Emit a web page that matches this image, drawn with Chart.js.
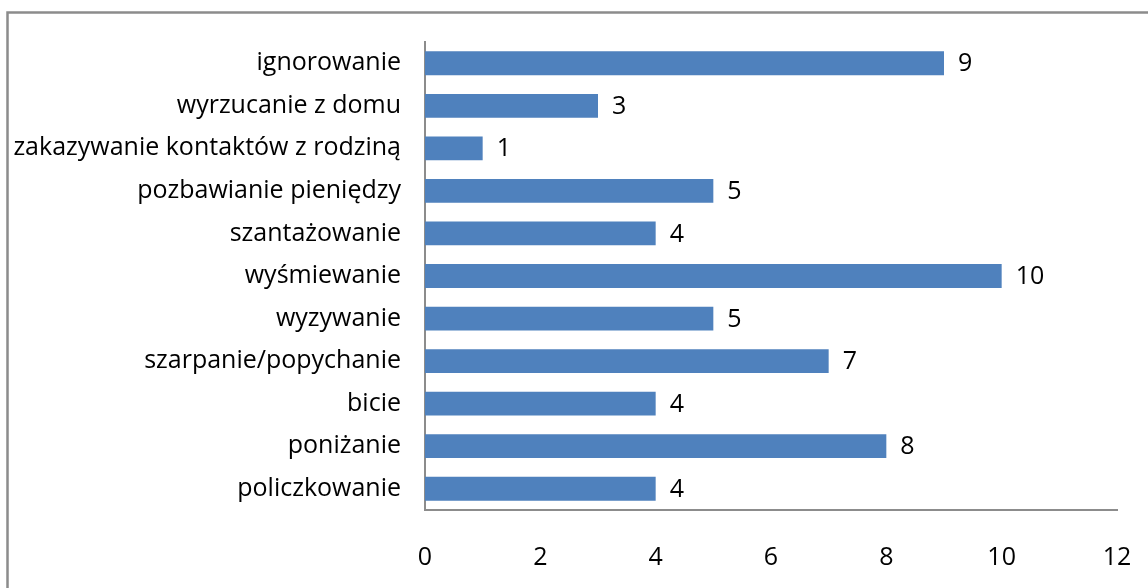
<!DOCTYPE html>
<html lang="pl">

<head>
    <meta charset="UTF-8">
    <title>Formy przemocy</title>
    <script src="https://cdn.jsdelivr.net/npm/chart.js"></script>
    <style>
        html, body { margin: 0; padding: 0; background: #fff; }
        #wrap { width: 1148px; height: 588px; }
    </style>
</head>

<body>
    <div id="wrap">
        <canvas id="myChart" width="1148" height="588"></canvas>
    </div>

    <script>
        // dane
        const kategorie = [
            'ignorowanie',
            'wyrzucanie z domu',
            'zakazywanie kontaktów z rodziną',
            'pozbawianie pieniędzy',
            'szantażowanie',
            'wyśmiewanie',
            'wyzywanie',
            'szarpanie/popychanie',
            'bicie',
            'poniżanie',
            'policzkowanie'
        ];
        const wartosci = [9, 3, 1, 5, 4, 10, 5, 7, 4, 8, 4];
        const osX = [0, 2, 4, 6, 8, 10, 12];

        const font = '"Open Sans"';
        const fontSize = 25;

        // ramka wokol wykresu
        const ramka = {
            id: 'ramka',
            beforeDraw(chart) {
                const c = chart.ctx;
                c.save();
                c.strokeStyle = '#8c8c8c';
                c.lineWidth = 2.5;
                c.strokeRect(7.5, 12.5, 1400, 900);
                c.restore();
            }
        };

        // etykiety z wartosciami
        const etykiety = {
            id: 'etykiety',
            afterDatasetsDraw(chart) {
                const c = chart.ctx;
                const meta = chart.getDatasetMeta(0);
                c.save();
                c.font = fontSize + 'px ' + font;
                c.fillStyle = '#000';
                c.textAlign = 'left';
                c.textBaseline = 'middle';
                meta.data.forEach((bar, i) => {
                    c.fillText(wartosci[i], bar.x + 14, bar.y + 1);
                });
                c.restore();
            }
        };

        const ctx = document.getElementById('myChart');

        new Chart(ctx, {
            type: 'bar',
            data: {
                labels: kategorie,
                datasets: [{
                    data: wartosci,
                    backgroundColor: '#4f81bd',
                    categoryPercentage: 1,
                    barPercentage: 0.56
                }]
            },
            options: {
                indexAxis: 'y',
                responsive: false,
                animation: false,
                layout: {
                    padding: { top: 42, right: 31, bottom: 0, left: 0 }
                },
                plugins: {
                    legend: { display: false },
                    tooltip: { enabled: false }
                },
                scales: {
                    x: {
                        min: 0,
                        max: 12,
                        afterBuildTicks(axis) {
                            axis.ticks = osX.map(v => ({ value: v }));
                        },
                        grid: { display: false, drawTicks: false },
                        border: { display: true, color: '#8c8c8c', width: 2 },
                        ticks: {
                            color: '#000',
                            padding: 33,
                            maxRotation: 0,
                            font: { family: font, size: fontSize }
                        },
                        afterFit(axis) {
                            axis.height = 78;
                            axis.paddingLeft = 0;
                            axis.paddingRight = 0;
                        }
                    },
                    y: {
                        grid: { display: false, drawTicks: false },
                        border: { display: true, color: '#8c8c8c', width: 2 },
                        ticks: {
                            color: '#000',
                            padding: 24,
                            autoSkip: false,
                            font: { family: font, size: fontSize }
                        },
                        afterFit(axis) {
                            axis.width = 425;
                            axis.paddingTop = 0;
                            axis.paddingBottom = 0;
                        }
                    }
                }
            },
            plugins: [ramka, etykiety]
        });
    </script>
</body>

</html>
